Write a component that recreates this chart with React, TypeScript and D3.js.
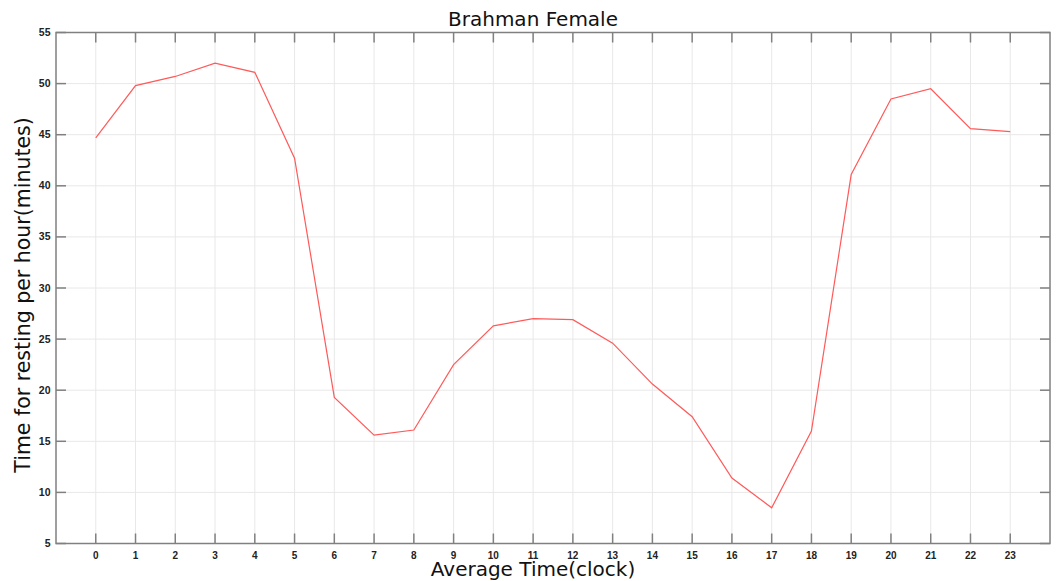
import React from "react";
import * as d3 from "d3";

const hours = [0,1,2,3,4,5,6,7,8,9,10,11,12,13,14,15,16,17,18,19,20,21,22,23];
const restMinutes = [44.7,49.8,50.7,52.0,51.1,42.7,19.3,15.6,16.1,22.5,26.3,27.0,26.9,24.6,20.6,17.4,11.4,8.5,16.0,41.1,48.5,49.5,45.6,45.3];
const yTicks = [5,10,15,20,25,30,35,40,45,50,55];
const title = "Brahman Female";
const xLabel = "Average Time(clock)";
const yLabel = "Time for resting per hour(minutes)";

export default function App() {
  const W = 1057, H = 581;
  const L = 56, R = 1050, T = 32.5, B = 543.5;
  const x = d3.scaleLinear().domain([-1, 24]).range([L, R]);
  const y = d3.scaleLinear().domain([5, 55]).range([B, T]);
  const line = d3.line<number>().x((_, i) => x(hours[i])).y((d) => y(d));
  const tickLen = 10;
  const axisColor = "#808080";
  const gridColor = "#e8e8e8";
  const tickFont = "'Liberation Sans', Arial, sans-serif";
  const labelFont = "'DejaVu Sans', sans-serif";
  const cx = 533;
  return (
    <svg width={W} height={H} style={{ position: "absolute", left: 0, top: 0, background: "#fff" }}>
      {hours.map((h) => (
        <line key={"gx" + h} x1={x(h)} x2={x(h)} y1={T} y2={B} stroke={gridColor} strokeWidth={1} />
      ))}
      {yTicks.map((v) => (
        <line key={"gy" + v} x1={L} x2={R} y1={y(v)} y2={y(v)} stroke={gridColor} strokeWidth={1} />
      ))}
      {hours.map((h) => (
        <g key={"tx" + h}>
          <line x1={x(h)} x2={x(h)} y1={B} y2={B - tickLen} stroke={axisColor} strokeWidth={1.5} />
          <line x1={x(h)} x2={x(h)} y1={T} y2={T + tickLen} stroke={axisColor} strokeWidth={1.5} />
          <text x={x(h)} y={B + 15} textAnchor="middle" fontFamily={tickFont} fontWeight="bold" fontSize={10} fill="#222">{h}</text>
        </g>
      ))}
      {yTicks.map((v) => (
        <g key={"ty" + v}>
          <line x1={L} x2={L + tickLen} y1={y(v)} y2={y(v)} stroke={axisColor} strokeWidth={1.5} />
          <line x1={R} x2={R - tickLen} y1={y(v)} y2={y(v)} stroke={axisColor} strokeWidth={1.5} />
          <text x={L - 5.5} y={y(v) + 3.5} textAnchor="end" fontFamily={tickFont} fontWeight="bold" fontSize={10.5} fill="#222">{v}</text>
        </g>
      ))}
      <rect x={L} y={T} width={R - L} height={B - T} fill="none" stroke={axisColor} strokeWidth={1.5} />
      <path d={line(restMinutes) || ""} fill="none" stroke="#ff5a5a" strokeWidth={1.2} />
      <text x={cx} y={26} textAnchor="middle" fontFamily={labelFont} fontSize={20} fill="#111">{title}</text>
      <text x={cx} y={576} textAnchor="middle" fontFamily={labelFont} fontSize={20} fill="#111">{xLabel}</text>
      <text transform={`translate(30, 295) rotate(-90)`} textAnchor="middle" fontFamily={labelFont} fontSize={20.5} fill="#111">{yLabel}</text>
    </svg>
  );
}
